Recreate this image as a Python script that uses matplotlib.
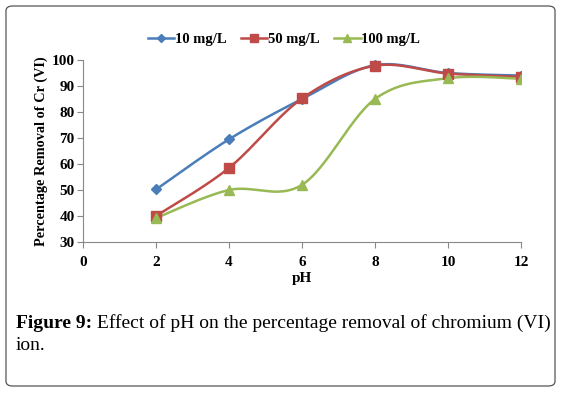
import numpy as np
import matplotlib
matplotlib.use("Agg")
import matplotlib.pyplot as plt
from matplotlib.patches import FancyBboxPatch
from matplotlib.lines import Line2D

ph = [2, 4, 6, 8, 10, 12]
s10 = [50.2, 69.5, 85.0, 98.0, 95.0, 94.0]
s50 = [40.0, 58.5, 85.2, 97.8, 94.8, 93.5]
s100 = [39.2, 50.0, 52.0, 85.0, 93.0, 92.8]
labels = ["10 mg/L", "50 mg/L", "100 mg/L"]
colors = ["#4A7EBB", "#BE4B48", "#98B954"]
markers = ["D", "s", "^"]
msizes = [5, 7, 7]
xticks = [0, 2, 4, 6, 8, 10, 12]
yticks = [30, 40, 50, 60, 70, 80, 90, 100]


def smooth(x, y, n=30):
    x = np.asarray(x, float); y = np.asarray(y, float)
    px = np.concatenate([[x[0]], x, [x[-1]]])
    py = np.concatenate([[y[0]], y, [y[-1]]])
    xs, ys = [], []
    for i in range(1, len(px) - 2):
        p0 = np.array([px[i], py[i]]); p3 = np.array([px[i + 1], py[i + 1]])
        p1 = p0 + (np.array([px[i + 1], py[i + 1]]) - np.array([px[i - 1], py[i - 1]])) / 6
        p2 = p3 - (np.array([px[i + 2], py[i + 2]]) - np.array([px[i], py[i]])) / 6
        t = np.linspace(0, 1, n)[:, None]
        b = (1 - t) ** 3 * p0 + 3 * (1 - t) ** 2 * t * p1 + 3 * (1 - t) * t ** 2 * p2 + t ** 3 * p3
        xs.extend(b[:, 0]); ys.extend(b[:, 1])
    return xs, ys


serif = ["Liberation Serif", "DejaVu Serif"]
fig = plt.figure(figsize=(5.62, 3.93), dpi=100)
fig.patches.append(FancyBboxPatch((6 / 562, 7 / 393), 549 / 562, 380 / 393,
                                  boxstyle="round,pad=0,rounding_size=0.012",
                                  transform=fig.transFigure, fill=False,
                                  edgecolor="#555555", linewidth=0.9))
ax = fig.add_axes([83 / 562, 1 - 242 / 393, 438 / 562, 182 / 393])
handles = []
for y, lab, c, m, ms in zip([s10, s50, s100], labels, colors, markers, msizes):
    sx, sy = smooth(ph, y)
    ax.plot(sx, sy, color=c, lw=1.8, zorder=2)
    ax.plot(ph, y, ls="none", marker=m, ms=ms, color=c, zorder=3)
    handles.append(Line2D([], [], color=c, lw=1.8, marker=m, ms=ms))

ax.set_xlim(0, 12)
ax.set_ylim(30, 100)
ax.set_xticks(xticks)
ax.set_yticks(yticks)
for s in ["top", "right"]:
    ax.spines[s].set_visible(False)
for s in ["left", "bottom"]:
    ax.spines[s].set_color("#888888")
    ax.spines[s].set_linewidth(0.8)
ax.tick_params(axis="both", color="#888888", length=4, width=0.8)
ax.tick_params(axis="x", pad=6)
ax.tick_params(axis="y", pad=2)
for lab in ax.get_xticklabels() + ax.get_yticklabels():
    lab.set_fontfamily(serif)
    lab.set_fontweight("bold")
    lab.set_fontsize(11)
ax.set_xlabel("pH", fontfamily=serif, fontweight="bold", fontsize=11, labelpad=2)
ax.set_ylabel("Percentage Removal of Cr (VI)", fontfamily=serif, fontweight="bold",
              fontsize=10.3, labelpad=3)

fig.legend(handles, labels, loc="center", bbox_to_anchor=(284 / 562, 1 - 39 / 393),
           ncol=3, frameon=False, prop={"family": serif, "weight": "bold", "size": 10.5},
           handlelength=1.8, handletextpad=0.05, columnspacing=1.0, markerscale=0.75)

fig.canvas.draw()
r = fig.canvas.get_renderer()
cap_size = 14
t1 = fig.text(16 / 562, 1 - 323 / 393, "Figure 9:", fontfamily=serif, fontweight="bold",
              fontsize=cap_size, va="center", ha="left")
bb = t1.get_window_extent(r)
t2 = fig.text(bb.x1 / fig.bbox.width, 1 - 323 / 393,
              " Effect of pH on the percentage removal of chromium (VI)",
              fontfamily=serif, fontsize=cap_size, va="center", ha="left")
fig.text(16 / 562, 1 - 345 / 393, "ion.", fontfamily=serif, fontsize=cap_size,
         va="center", ha="left")

fig.savefig("out.png", dpi=100)
